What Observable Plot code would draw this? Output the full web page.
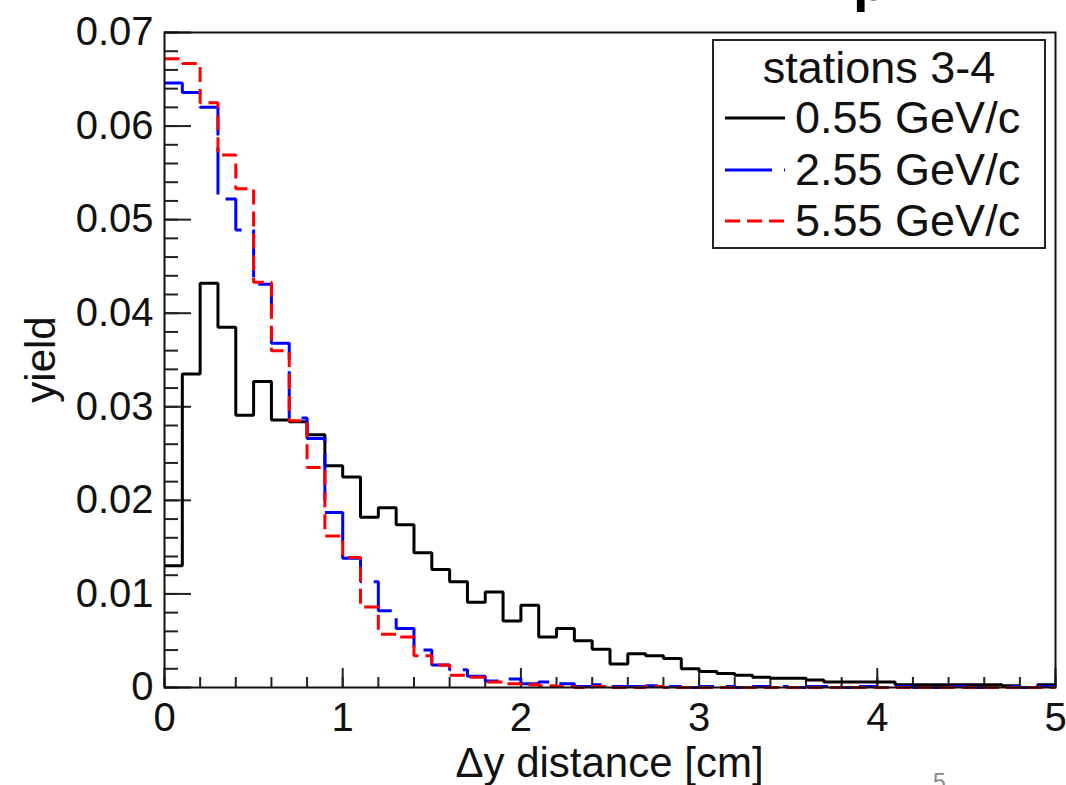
<!DOCTYPE html>
<html><head><meta charset="utf-8">
<script src="https://cdn.jsdelivr.net/npm/d3@7"></script>
<script src="https://cdn.jsdelivr.net/npm/@observablehq/plot@0.6"></script>
<style>
html,body{margin:0;padding:0;background:#fff;overflow:hidden;}
#wrap{position:relative;width:1066px;height:785px;overflow:hidden;font-family:"Liberation Sans",Arial,sans-serif;}
#wrap svg{display:block;}
#overlay{position:absolute;left:0;top:0;}
</style></head><body><div id="wrap"></div>
<script>
// ---- data (50 bins of width 0.1 cm from 0 to 5 cm) ----
const binWidth = 0.1;
const yield055 = [0.0130,0.0335,0.0432,0.0385,0.0291,0.0327,0.0286,0.0284,0.0270,0.0237,
                  0.0225,0.0182,0.0192,0.0174,0.0144,0.0126,0.0113,0.0091,0.0102,0.0071,
                  0.0088,0.0054,0.0063,0.0050,0.0041,0.0025,0.0036,0.0034,0.0031,0.0020,
                  0.0017,0.0015,0.0013,0.0011,0.0010,0.0010,0.0008,0.0006,0.0006,0.0006,
                  0.0006,0.0003,0.0003,0.0003,0.0003,0.0003,0.0003,0.0002,0.0000,0.0003];
const yield255 = [0.0646,0.0636,0.0620,0.0522,0.0489,0.0431,0.0368,0.0288,0.0266,0.0187,
                  0.0138,0.0113,0.0082,0.0063,0.0040,0.0024,0.0019,0.0012,0.0007,0.0009,
                  0.0004,0.0006,0.0004,0.0001,0.0003,0.0001,0.0001,0.0002,0.0001,0.0000,
                  0.0001,0.0001,0.0000,0.0001,0.0001,0.0000,0.0001,0.0001,0.0000,0.0001,
                  0.0000,0.0001,0.0000,0.0000,0.0001,0.0000,0.0000,0.0001,0.0000,0.0001];
const yield555 = [0.0672,0.0667,0.0625,0.0569,0.0533,0.0433,0.0360,0.0285,0.0235,0.0162,
                  0.0139,0.0086,0.0057,0.0054,0.0034,0.0024,0.0013,0.0011,0.0006,0.0004,
                  0.0003,0.0002,0.0001,0.0000,0.0001,0.0000,0.0000,0.0001,0.0000,0.0000,
                  0.0000,0.0000,0.0000,0.0000,0.0000,0.0000,0.0000,0.0000,0.0000,0.0000,
                  0.0000,0.0000,0.0000,0.0000,0.0000,0.0000,0.0000,0.0000,0.0000,0.0000];
const seriesNames  = ["0.55 GeV/c", "2.55 GeV/c", "5.55 GeV/c"];
const seriesColors = ["#000000", "#0000ff", "#ff0000"];
const seriesDash   = [null, "47,12", "15,7"];
const legendTitle = "stations 3-4";
const xTicks = [0, 1, 2, 3, 4, 5];
const yTicks = [0, 0.01, 0.02, 0.03, 0.04, 0.05, 0.06, 0.07];
const xLabel = "Δy distance [cm]";
const yLabel = "yield";

// ---- layout ----
const W = 1066, H = 785, mL = 164, mR = 11, mT = 32, mB = 98;
const FONT = "Liberation Sans, Arial, Helvetica, sans-serif";

function steps(values) {
  const pts = values.map((v, i) => ({x: i * binWidth, y: v}));
  pts.push({x: values.length * binWidth, y: values[values.length - 1]});
  return pts;
}
const xMinor = d3.range(0, 26).map(i => i * 0.2);
const yMinor = d3.range(0, 36).map(i => i * 0.002);
const blank = () => "";
const allSeries = [yield055, yield255, yield555];

const chart = Plot.plot({
  width: W, height: H,
  marginLeft: mL, marginRight: mR, marginTop: mT, marginBottom: mB,
  style: {fontFamily: FONT, fontSize: "40px", color: "#111", background: "#fff"},
  x: {domain: [0, 5]},
  y: {domain: [0, 0.07]},
  marks: [
    Plot.axisX(xTicks, {tickSize: 0, tickPadding: 15, tickFormat: d => String(d), label: null, fontSize: 40}),
    Plot.axisY(yTicks, {tickSize: 0, tickPadding: 11, tickFormat: d => d === 0 ? "0" : d.toFixed(2), label: null, fontSize: 40}),
    Plot.axisX(xMinor, {tickSize: -10, tickFormat: blank, label: null, strokeWidth: 2, stroke: "#222"}),
    Plot.axisX(xTicks, {tickSize: -19, tickFormat: blank, label: null, strokeWidth: 2, stroke: "#222"}),
    Plot.axisY(yMinor, {tickSize: -14, tickFormat: blank, label: null, strokeWidth: 2, stroke: "#222"}),
    Plot.axisY(yTicks, {tickSize: -27, tickFormat: blank, label: null, strokeWidth: 2, stroke: "#222"}),
    ...allSeries.map((vals, k) => Plot.line(steps(vals), {
      x: "x", y: "y", curve: "step-after",
      stroke: seriesColors[k], strokeWidth: 3,
      strokeDasharray: seriesDash[k] ?? undefined,
      strokeLinejoin: "miter", strokeLinecap: "butt"
    })),
    Plot.frame({stroke: "#111", strokeWidth: 2})
  ]
});
const wrap = document.getElementById("wrap");
wrap.appendChild(chart);

// ---- overlay: titles, legend, slide fragments ----
const ns = "http://www.w3.org/2000/svg";
const ov = document.createElementNS(ns, "svg");
ov.setAttribute("id", "overlay");
ov.setAttribute("width", W); ov.setAttribute("height", H);
wrap.appendChild(ov);
function txt(s, attrs) {
  const t = document.createElementNS(ns, "text");
  t.textContent = s;
  t.setAttribute("font-family", FONT);
  for (const k in attrs) t.setAttribute(k, attrs[k]);
  ov.appendChild(t); return t;
}
function el(name, attrs) {
  const e = document.createElementNS(ns, name);
  for (const k in attrs) e.setAttribute(k, attrs[k]);
  ov.appendChild(e); return e;
}
// axis titles
txt(xLabel, {x: (mL + W - mR) / 2, y: 777, "text-anchor": "middle", "font-size": 42, fill: "#111"});
txt(yLabel, {transform: `translate(55,${(mT + H - mB) / 2}) rotate(-90)`, "text-anchor": "middle", "font-size": 42, fill: "#111"});

// legend
el("rect", {x: 713, y: 40, width: 332, height: 208, fill: "#fff", stroke: "#222", "stroke-width": 2});
txt(legendTitle, {x: 879, y: 83, "text-anchor": "middle", "font-size": 45, fill: "#111"});
const rowBase = [133, 185, 236];
seriesNames.forEach((name, k) => {
  const ly = rowBase[k] - 15;
  const line = el("line", {x1: 725, x2: 785, y1: ly, y2: ly, stroke: seriesColors[k], "stroke-width": 3});
  if (seriesDash[k]) line.setAttribute("stroke-dasharray", seriesDash[k]);
  txt(name, {x: 795, y: rowBase[k], "font-size": 45, fill: "#111"});
});

// fragments of the surrounding slide (cut off at the edges, as in the reference)
txt("p", {x: 853, y: 0, "font-size": 56, "font-weight": "bold", fill: "#000"});
txt("5", {x: 933, y: 790, "font-size": 23, fill: "#888"});
</script>
</body></html>
